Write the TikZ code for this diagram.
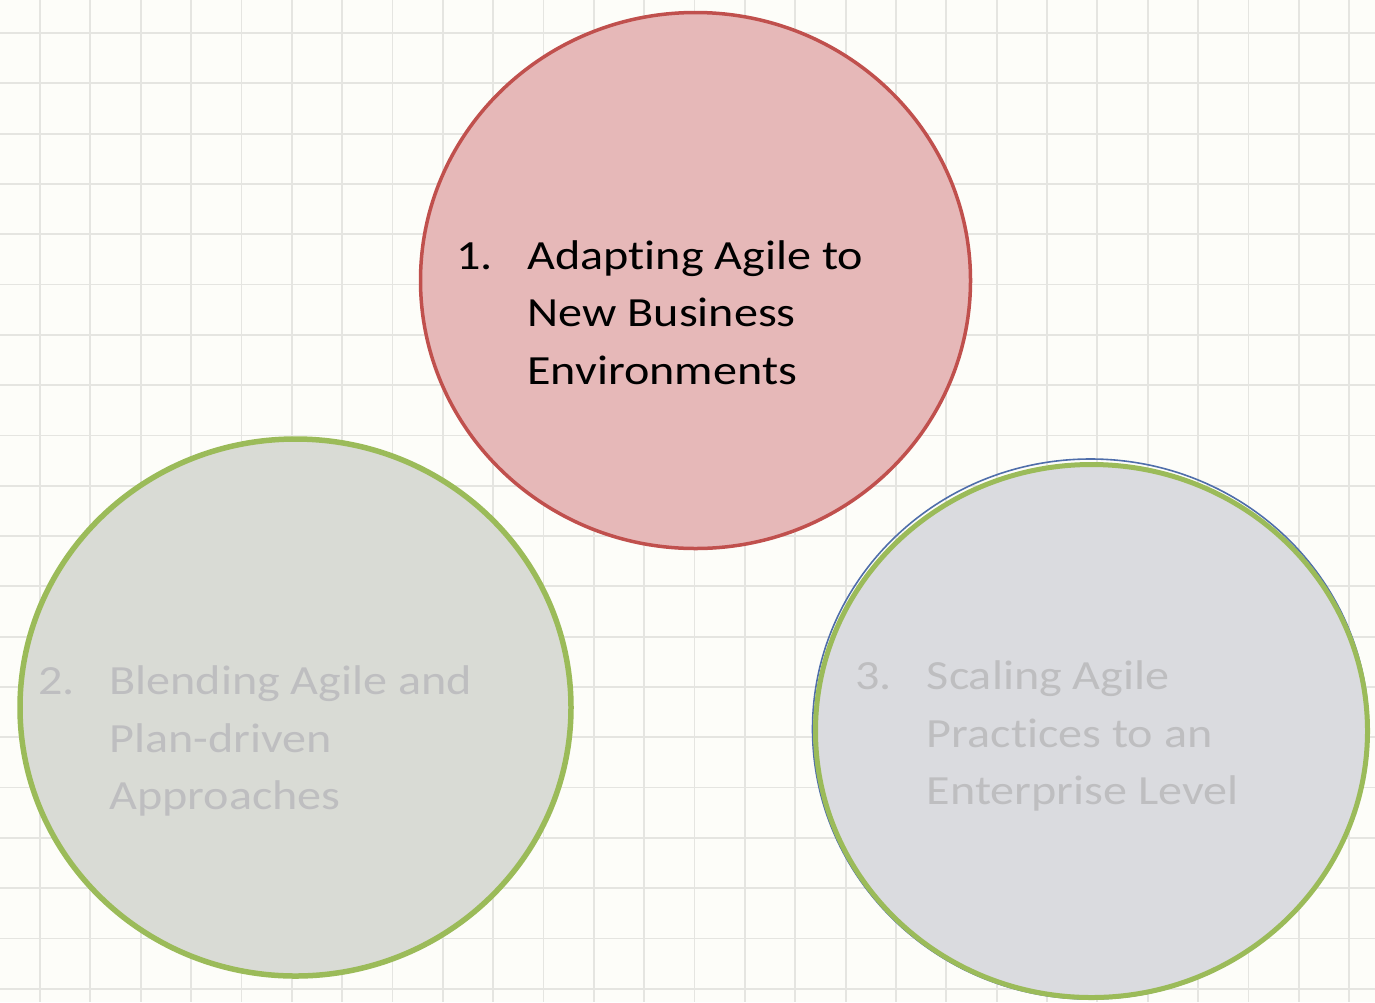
\documentclass[tikz,border=0pt]{standalone}
\usepackage{fontspec}
\setmainfont{Carlito}[FakeStretch=1.16, Ligatures={NoCommon}]
\usetikzlibrary{shapes.geometric}
\definecolor{bgcol}{RGB}{253,253,249}
\definecolor{gridcol}{RGB}{229,229,225}
\definecolor{redfill}{RGB}{230,184,184}
\definecolor{redline}{RGB}{192,80,77}
\definecolor{greenline}{RGB}{155,187,89}
\definecolor{bluelineB}{RGB}{79,110,170}
\definecolor{fillB}{RGB}{217,219,213}
\definecolor{fillC}{RGB}{218,219,223}
\definecolor{fadetext}{RGB}{190,190,192}
\tikzset{
  blob/.style={ellipse, inner sep=0pt},
  txt/.style={anchor=base west, inner sep=0pt, font=\fontsize{20.75}{28}\selectfont},
}
\begin{document}
\begin{tikzpicture}[x=0.5pt,y=-0.5pt]
\fill[bgcol] (0,0) rectangle (1375,1002);
\useasboundingbox (0,0) rectangle (1375,1002);
% grid
\foreach \i in {0,...,27} {
  \draw[gridcol, line width=0.9pt] ({40+50.35*\i},0) -- ({40+50.35*\i},1002);
}
\foreach \j in {0,...,19} {
  \draw[gridcol, line width=0.9pt] (0,{33+50.3*\j}) -- (1375,{33+50.3*\j});
}
% circle 1
\node[blob, draw=redline, fill=redfill, line width=1.75pt,
      minimum width=550*0.5pt, minimum height=536*0.5pt] (c1) at (695.5,280.5) {};
% circle 2
\node[blob, draw=greenline, fill=fillB, line width=2.75pt,
      minimum width=551*0.5pt, minimum height=537*0.5pt] (c2) at (295.5,707.5) {};
% circle 3 (blue rim behind green)
\node[blob, draw=bluelineB, line width=0.8pt,
      minimum width=556*0.5pt, minimum height=540*0.5pt] (c3b) at (1090.5,729) {};
\node[blob, draw=greenline, fill=fillC, line width=2.5pt,
      minimum width=552*0.5pt, minimum height=533*0.5pt] (c3) at (1091.5,731) {};
% texts circle 1
\node[txt] (n1) at (456,269) {1.};
\node[txt] (t1a) at (527,269) {Adapting Agile to};
\node[txt] (t1b) at (527,326.5) {New Business};
\node[txt] (t1c) at (527,384) {Environments};
% texts circle 2
\node[txt, text=fadetext] (n2) at (38,694.5) {2.};
\node[txt, text=fadetext] (t2a) at (109,694.5) {Blending Agile and};
\node[txt, text=fadetext] (t2b) at (109,752) {Plan-driven};
\node[txt, text=fadetext] (t2c) at (109,809.5) {Approaches};
% texts circle 3
\node[txt, text=fadetext] (n3) at (855,689.5) {3.};
\node[txt, text=fadetext] (t3a) at (926.5,689.5) {Scaling Agile};
\node[txt, text=fadetext] (t3b) at (926.5,747) {Practices to an};
\node[txt, text=fadetext] (t3c) at (926.5,804.5) {Enterprise Level};
\end{tikzpicture}
\end{document}
